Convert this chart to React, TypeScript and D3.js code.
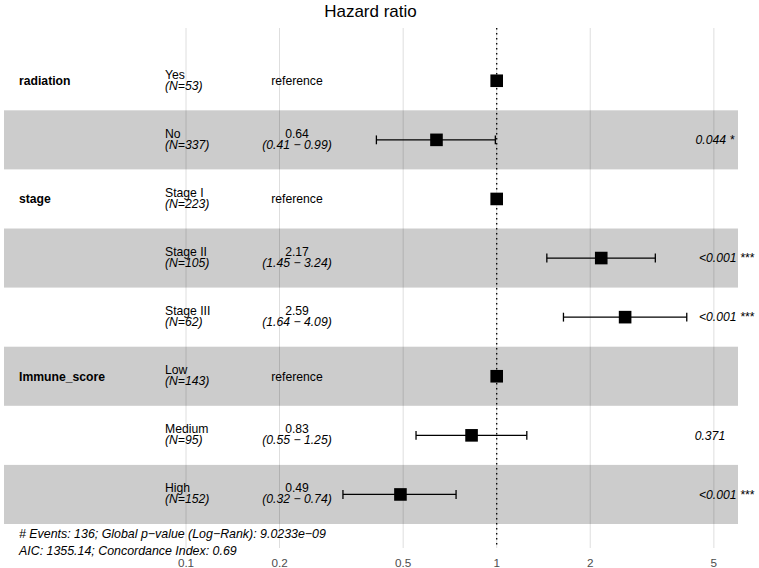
import React from "react";
import * as d3 from "d3";

const variables = ["radiation", "", "stage", "", "", "Immune_score", "", ""];
const levels = ["Yes", "No", "Stage I", "Stage II", "Stage III", "Low", "Medium", "High"];
const nCounts = [53, 337, 223, 105, 62, 143, 95, 152];
const hazard = [1, 0.64, 1, 2.17, 2.59, 1, 0.83, 0.49];
const ciLow: (number | null)[] = [null, 0.41, null, 1.45, 1.64, null, 0.55, 0.32];
const ciHigh: (number | null)[] = [null, 0.99, null, 3.24, 4.09, null, 1.25, 0.74];
const isReference = [true, false, true, false, false, true, false, false];
const pValues = ["", "0.044", "", "<0.001", "<0.001", "", "0.371", "<0.001"];
const stars = ["", "*", "", "***", "***", "", "", "***"];
const tickValues = [0.1, 0.2, 0.5, 1, 2, 5];
const tickLabels = ["0.1", "0.2", "0.5", "1", "2", "5"];
const footer1 = "# Events: 136; Global p\u2212value (Log\u2212Rank): 9.0233e\u221209";
const footer2 = "AIC: 1355.14; Concordance Index: 0.69";

const W = 759;
const H = 568;
const FONT = "'Liberation Sans', Arial, Helvetica, sans-serif";

let measureCtx: CanvasRenderingContext2D | null = null;
function textWidth(s: string, font: string) {
  if (typeof document === "undefined") return s.length * 6;
  if (!measureCtx) measureCtx = document.createElement("canvas").getContext("2d");
  if (!measureCtx) return s.length * 6;
  measureCtx.font = font;
  return measureCtx.measureText(s).width;
}

export default function App() {
  const x = d3.scaleLog().domain([0.1, 1]).range([186, 496.7]);
  const rows = d3.scaleBand<number>().domain(d3.range(levels.length)).range([51.2, 524]).padding(0);
  const bw = rows.bandwidth();
  const xMin = x.invert(4);
  const xMax = x.invert(738);
  const panelTop = 28;
  const panelBottom = 548;

  const varX = 19;
  const levelX = 165;
  const estX = 297;
  const pX0 = 688;

  return (
    <svg
      width={W}
      height={H}
      style={{ position: "absolute", left: 0, top: 0, display: "block" }}
      fontFamily={FONT}
    >
      <rect x={0} y={0} width={W} height={H} fill="#ffffff" />
      {tickValues.map((t, i) => (
        <line
          key={"g" + i}
          x1={x(t)}
          x2={x(t)}
          y1={panelTop}
          y2={panelBottom}
          stroke="#DEDEDE"
          strokeWidth={1}
        />
      ))}
      {levels.map((_, i) =>
        i % 2 === 1 ? (
          <rect
            key={"b" + i}
            x={x(xMin)}
            y={rows(i)}
            width={x(xMax) - x(xMin)}
            height={bw}
            fill="#000000"
            fillOpacity={0.2}
          />
        ) : null
      )}
      {levels.map((_, i) => {
        const cy = (rows(i) as number) + bw / 2;
        const lo = ciLow[i];
        const hi = ciHigh[i];
        const cap = (bw * 0.15) / 2;
        return (
          <g key={"p" + i}>
            {lo !== null && hi !== null ? (
              <g stroke="#000" strokeWidth={1.3}>
                <line x1={x(lo)} x2={x(hi)} y1={cy} y2={cy} />
                <line x1={x(lo)} x2={x(lo)} y1={cy - cap} y2={cy + cap} />
                <line x1={x(hi)} x2={x(hi)} y1={cy - cap} y2={cy + cap} />
              </g>
            ) : null}
            <rect x={x(hazard[i]) - 6.3} y={cy - 6.3} width={12.6} height={12.6} fill="#000" />
          </g>
        );
      })}
      <line
        x1={x(1)}
        x2={x(1)}
        y1={panelTop}
        y2={panelBottom}
        stroke="#000"
        strokeWidth={1.3}
        strokeDasharray="1.5,3.5"
      />
      {levels.map((lev, i) => {
        const cy = (rows(i) as number) + bw / 2;
        const pLabel = pValues[i] ? pValues[i] + " " + stars[i] : "";
        const pW = textWidth(pLabel, `italic 12px ${FONT}`);
        return (
          <g key={"t" + i} fontSize={12.2} fill="#000">
            {variables[i] ? (
              <text x={varX} y={cy + 4.3} fontWeight="bold">
                {variables[i]}
              </text>
            ) : null}
            <text x={levelX} y={cy - 2.2}>{lev}</text>
            <text x={levelX} y={cy + 8.8} fontStyle="italic">{`(N=${nCounts[i]})`}</text>
            {isReference[i] ? (
              <text x={estX} y={cy + 4.3} textAnchor="middle">reference</text>
            ) : (
              <>
                <text x={estX} y={cy - 2.2} textAnchor="middle">{hazard[i].toFixed(2)}</text>
                <text x={estX} y={cy + 8.8} textAnchor="middle" fontStyle="italic">
                  {`(${(ciLow[i] as number).toFixed(2)} \u2212 ${(ciHigh[i] as number).toFixed(2)})`}
                </text>
              </>
            )}
            {pLabel ? (
              <text x={pX0 + 0.2 * pW} y={cy + 4.3} fontStyle="italic">{pLabel}</text>
            ) : null}
          </g>
        );
      })}
      <text x={varX} y={538} fontSize={12.4} fontStyle="italic" fill="#000">{footer1}</text>
      <text x={varX} y={555} fontSize={12.4} fontStyle="italic" fill="#000">{footer2}</text>
      {tickValues.map((t, i) => (
        <text key={"tl" + i} x={x(t)} y={566.5} fontSize={11.7} fill="#4D4D4D" textAnchor="middle">
          {tickLabels[i]}
        </text>
      ))}
      <text x={370.5} y={17} fontSize={17} textAnchor="middle" fill="#000">Hazard ratio</text>
    </svg>
  );
}
